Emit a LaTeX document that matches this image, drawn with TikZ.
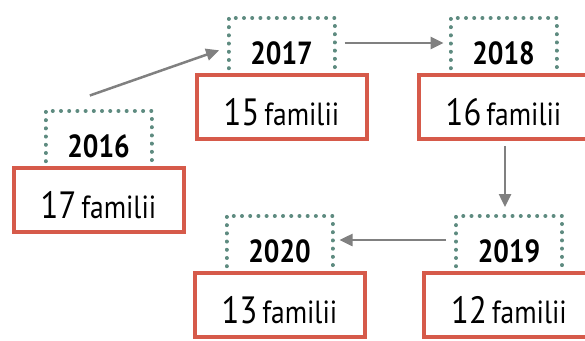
\documentclass[tikz,border=0pt]{standalone}
\usepackage{fontspec}
\setmainfont{PT Sans}[FakeStretch=0.86]
\usetikzlibrary{positioning,arrows.meta}
\definecolor{dotgreen}{RGB}{94,139,128}
\definecolor{boxred}{RGB}{214,90,74}
\definecolor{linkgray}{RGB}{128,128,128}
\newcommand\cnt[1]{{\fontsize{38}{38}\selectfont#1}\hspace{5pt}{\fontsize{32}{32}\selectfont familii}}
\begin{document}
\begin{tikzpicture}[x=1pt,y=-1pt,
	year/.style={draw=dotgreen,line width=4pt,dash pattern=on 0.01pt off 8.2pt,line cap=round,minimum width=106pt,inner xsep=0pt,inner ysep=0pt,text height=46pt,text depth=12pt,outer sep=0pt,font=\fontsize{32}{32}\selectfont\bfseries},
	count/.style={draw=boxred,line width=4pt,fill=white,minimum width=170pt,inner xsep=0pt,inner ysep=0pt,text height=50pt,text depth=14pt,outer sep=0pt},
	link/.style={draw=linkgray,line width=2.5pt,-{Triangle[length=13pt,width=12pt]}}]
	\useasboundingbox(0,0)rectangle(585,340);
	\clip(0,0)rectangle(585,340);
	% years
	\coordinate(P16)at(98.5,140);
	\coordinate(P17)at(281.5,47);
	\coordinate(P18)at(503.5,47);
	\coordinate(P19)at(509,245);
	\coordinate(P20)at(279.5,245);
	\foreach\y in{16,17,18,19,20}{\node[year](Y\y)at(P\y){20\y};}
	% families
	\node[count,below=-1pt of Y16](C16){\cnt{17}};
	\node[count,below=-1pt of Y17](C17){\cnt{15}};
	\node[count,below=-1pt of Y18](C18){\cnt{16}};
	\node[count,below=-1pt of Y19](C19){\cnt{12}};
	\node[count,below=-1pt of Y20](C20){\cnt{13}};
	% arrows
	\draw[link,shorten <=47pt,shorten >=10pt](Y16.north west)--(Y17.west);
	\draw[link,shorten <=10pt,shorten >=7pt]([yshift=4pt]Y17.east)--([yshift=4pt]Y18.west);
	\draw[link,shorten <=7pt,shorten >=9pt]([xshift=1.5pt]C18.south)--([xshift=1.5pt]C18.south|-Y19.north);
	\draw[link,shorten <=10pt,shorten >=7pt]([yshift=5pt]Y19.west)--([yshift=5pt]Y20.east);
\end{tikzpicture}
\end{document}
